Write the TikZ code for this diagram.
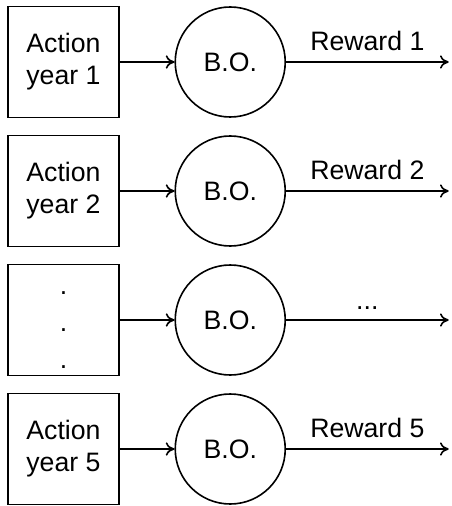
\documentclass[tikz,border=0pt]{standalone}
\usepackage{fontspec}
\setmainfont{Liberation Sans}
\usetikzlibrary{positioning, arrows.meta}

\begin{document}
\begin{tikzpicture}[
    node distance = 12.3pt and 41pt,
    line width = 1.2pt,
    > = {To[length=6.5pt, width=10pt]},
    % boxes for the yearly actions, circles for the B.O.
    action/.style = {draw, minimum size = 83.25pt, inner sep = 0pt,
      align = center, font = \fontsize{20}{24}\selectfont},
    % the dots sit a bit below the middle of their box
    vdots/.style = {action, text height = 72.6pt,
      font = \fontsize{20}{27.75}\selectfont},
    bayes/.style = {draw, circle, minimum size = 82.5pt, inner sep = 0pt,
      font = \fontsize{20}{24}\selectfont},
    reward/.style = {above, inner sep = 7.5pt,
      font = \fontsize{20}{24}\selectfont},
    ]

    % size of the page (top left is the origin)
    \useasboundingbox (0,0) rectangle (338.25pt,-379.5pt);

    % the column of actions
    \node[action] (a1) at (47.6pt,-46.5pt) {Action\\year 1};
    \node[action, below = of a1] (a2) {Action\\year 2};
    \node[vdots, below = of a2] (a3) {.\\.\\.};
    \node[action, below = of a3] (a5) {Action\\year 5};

    % the optimiser of every row
    \node[bayes, right = of a1] (b1) {B.O.};
    \node[bayes, right = of a2] (b2) {B.O.};
    \node[bayes, right = of a3] (b3) {B.O.};
    \node[bayes, right = of a5] (b5) {B.O.};

    % free ends of the reward arrows
    \coordinate (edge) at (336.5pt,0);
    \coordinate (r1) at (b1 -| edge);
    \coordinate (r2) at (b2 -| edge);
    \coordinate (r3) at (b3 -| edge);
    \coordinate (r5) at (b5 -| edge);

    \draw[->] (a1) -- (b1);
    \draw[->] (a2) -- (b2);
    \draw[->] (a3) -- (b3);
    \draw[->] (a5) -- (b5);

    \draw[->] (b1) -- node[reward] {Reward 1} (r1);
    \draw[->] (b2) -- node[reward] {Reward 2} (r2);
    \draw[->] (b3) -- node[reward] {...} (r3);
    \draw[->] (b5) -- node[reward] {Reward 5} (r5);

\end{tikzpicture}
\end{document}
